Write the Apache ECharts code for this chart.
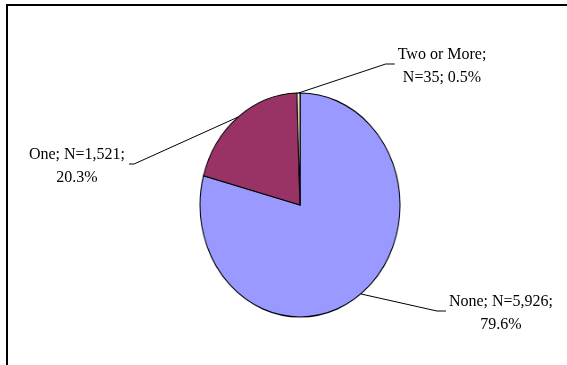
<!DOCTYPE html>
<html><head><meta charset="utf-8">
<script src="https://cdn.jsdelivr.net/npm/echarts@6/dist/echarts.min.js"></script>
<style>
html,body{margin:0;padding:0;background:#fff;}
#pie,#lab{position:absolute;left:0;top:0;width:567px;height:365px;}
#pie{transform:scaleX(0.893);transform-origin:300px 205px;}
</style></head>
<body><div id="pie"></div><div id="lab"></div>
<script>
// ---- data ----
const categories = ['None', 'One', 'Two or More'];
const counts = [5926, 1521, 35];
const countLabels = ['5,926', '1,521', '35'];
const pctLabels = ['79.6%', '20.3%', '0.5%'];
const colors = ['#9999FF', '#993366', '#FFFFCC'];

// ---- layout ----
const CX = 300, CY = 205, R = 112, SX = 0.893;
const labelPos = [[501, 313], [77, 166], [442, 66]];
const labelSide = ['right', 'left', 'right'];

const seriesData = categories.map((c, i) => ({ name: c, value: counts[i] }));

function labelText(i) {
  if (i === 2) return categories[i] + ';\nN=' + countLabels[i] + '; ' + pctLabels[i];
  return categories[i] + '; N=' + countLabels[i] + ';\n' + pctLabels[i];
}

const pieChart = echarts.init(document.getElementById('pie'), null, { renderer: 'canvas' });
pieChart.setOption({
  animation: false,
  color: colors,
  series: [{
    type: 'pie',
    center: [CX, CY],
    radius: [0, R],
    startAngle: 90,
    clockwise: true,
    avoidLabelOverlap: false,
    label: { show: false },
    labelLine: { show: false },
    itemStyle: { borderColor: '#000', borderWidth: 1.1 },
    emphasis: { disabled: true },
    data: seriesData
  }]
});

const labChart = echarts.init(document.getElementById('lab'), null, { renderer: 'canvas' });
labChart.setOption({
  animation: false,
  backgroundColor: 'transparent',
  graphic: [{
    type: 'rect',
    shape: { x: 7, y: 5, width: 620, height: 420 },
    style: { fill: 'none', stroke: '#000', lineWidth: 2 },
    silent: true
  }],
  series: [{
    type: 'pie',
    center: [CX, CY],
    radius: [0, R],
    startAngle: 90,
    clockwise: true,
    silent: true,
    avoidLabelOverlap: false,
    itemStyle: { color: 'transparent', borderWidth: 0 },
    emphasis: { disabled: true },
    label: {
      show: true,
      position: 'outside',
      formatter: p => labelText(p.dataIndex),
      fontFamily: 'Liberation Serif',
      fontSize: 16,
      lineHeight: 23,
      color: '#000',
      align: 'center'
    },
    labelLine: { show: true, length: 10, length2: 10, lineStyle: { color: '#000', width: 1 } },
    labelLayout: function (params) {
      const i = params.dataIndex;
      const pos = labelPos[i];
      const w = params.labelRect.width;
      let p0;
      if (params.labelLinePoints && params.labelLinePoints[0]) {
        p0 = params.labelLinePoints[0];
      } else {
        p0 = [CX, CY - R];
      }
      const x0 = CX + (p0[0] - CX) * SX;
      const y0 = p0[1];
      let ex, mx;
      const ey = pos[1] - 2;
      if (labelSide[i] === 'right') {
        ex = pos[0] - w / 2 - 3;
        mx = ex - 9;
      } else {
        ex = pos[0] + w / 2 + 4;
        mx = ex + 5;
      }
      return {
        x: pos[0],
        y: pos[1],
        align: 'center',
        verticalAlign: 'middle',
        labelLinePoints: [[x0, y0], [mx, ey], [ex, ey]]
      };
    },
    data: seriesData
  }]
});
</script>
</body></html>
